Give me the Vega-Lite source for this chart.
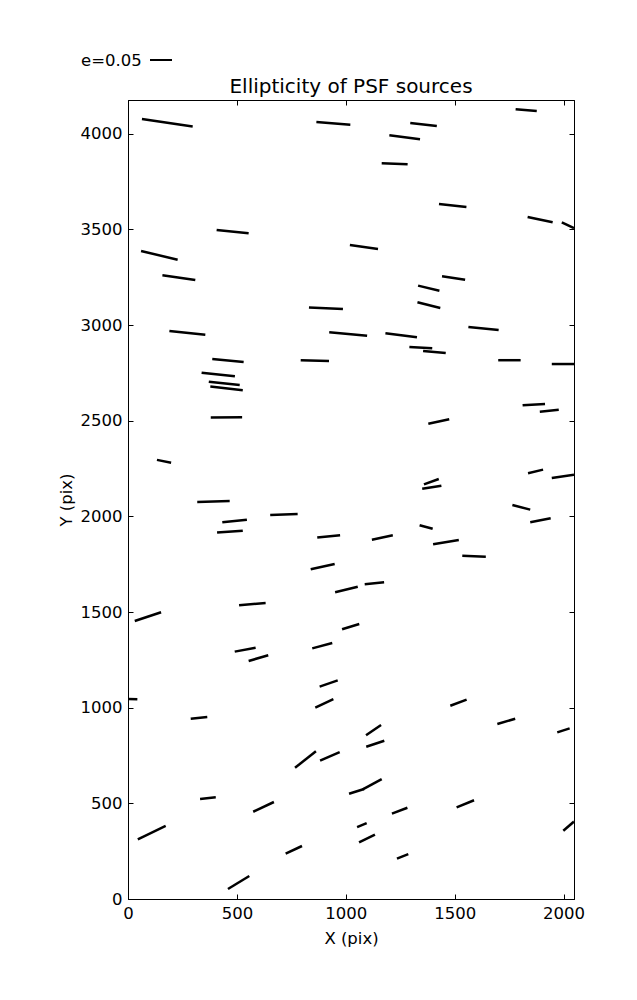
{
  "$schema": "https://vega.github.io/schema/vega-lite/v6.json",
  "autosize": {"type": "none"},
  "padding": {"left": 128, "top": 100, "right": 63, "bottom": 101},
  "width": 446,
  "height": 799,
  "background": "white",
  "config": {
    "font": "DejaVu Sans",
    "view": {"stroke": "black", "strokeWidth": 1},
    "axis": {
      "domainColor": "black", "domainWidth": 1,
      "tickColor": "black", "tickWidth": 1, "tickSize": -5,
      "labelColor": "black", "titleColor": "black",
      "labelFont": "DejaVu Sans", "titleFont": "DejaVu Sans",
      "labelFontSize": 16.5, "titleFontSize": 16.5, "titleFontWeight": "normal",
      "grid": false, "labelFlush": false, "labelOverlap": false, "labelPadding": 11, "format": "d"
    }
  },
  "title": {"text": "Ellipticity of PSF sources", "fontSize": 20, "fontWeight": "normal", "font": "DejaVu Sans", "color": "black", "offset": 4, "dy": 53},
  "data": {"values": [
    {"x1": 64, "y1": 4077, "x2": 297, "y2": 4037},
    {"x1": 865, "y1": 4061, "x2": 1021, "y2": 4047},
    {"x1": 407, "y1": 3497, "x2": 554, "y2": 3479},
    {"x1": 1019, "y1": 3418, "x2": 1148, "y2": 3397},
    {"x1": 60, "y1": 3387, "x2": 228, "y2": 3341},
    {"x1": 158, "y1": 3260, "x2": 309, "y2": 3235},
    {"x1": 831, "y1": 3091, "x2": 987, "y2": 3084},
    {"x1": 190, "y1": 2969, "x2": 355, "y2": 2949},
    {"x1": 924, "y1": 2962, "x2": 1098, "y2": 2944},
    {"x1": 387, "y1": 2822, "x2": 531, "y2": 2807},
    {"x1": 793, "y1": 2816, "x2": 923, "y2": 2812},
    {"x1": 1780, "y1": 4128, "x2": 1877, "y2": 4119},
    {"x1": 1296, "y1": 4056, "x2": 1418, "y2": 4040},
    {"x1": 1200, "y1": 3992, "x2": 1341, "y2": 3971},
    {"x1": 1165, "y1": 3845, "x2": 1284, "y2": 3840},
    {"x1": 1428, "y1": 3633, "x2": 1554, "y2": 3617},
    {"x1": 1835, "y1": 3565, "x2": 1950, "y2": 3537},
    {"x1": 1992, "y1": 3537, "x2": 2048, "y2": 3506},
    {"x1": 1442, "y1": 3255, "x2": 1548, "y2": 3237},
    {"x1": 1332, "y1": 3206, "x2": 1430, "y2": 3179},
    {"x1": 1329, "y1": 3119, "x2": 1434, "y2": 3089},
    {"x1": 1563, "y1": 2990, "x2": 1702, "y2": 2974},
    {"x1": 1182, "y1": 2957, "x2": 1327, "y2": 2936},
    {"x1": 1292, "y1": 2885, "x2": 1397, "y2": 2878},
    {"x1": 1355, "y1": 2864, "x2": 1459, "y2": 2854},
    {"x1": 1700, "y1": 2816, "x2": 1803, "y2": 2816},
    {"x1": 1946, "y1": 2796, "x2": 2048, "y2": 2796},
    {"x1": 338, "y1": 2751, "x2": 491, "y2": 2732},
    {"x1": 371, "y1": 2704, "x2": 513, "y2": 2687},
    {"x1": 378, "y1": 2678, "x2": 527, "y2": 2659},
    {"x1": 380, "y1": 2516, "x2": 524, "y2": 2518},
    {"x1": 133, "y1": 2295, "x2": 198, "y2": 2280},
    {"x1": 318, "y1": 2075, "x2": 467, "y2": 2080},
    {"x1": 433, "y1": 1969, "x2": 546, "y2": 1982},
    {"x1": 409, "y1": 1915, "x2": 527, "y2": 1925},
    {"x1": 653, "y1": 2007, "x2": 779, "y2": 2012},
    {"x1": 869, "y1": 1890, "x2": 974, "y2": 1901},
    {"x1": 839, "y1": 1723, "x2": 949, "y2": 1751},
    {"x1": 951, "y1": 1603, "x2": 1055, "y2": 1632},
    {"x1": 510, "y1": 1535, "x2": 632, "y2": 1547},
    {"x1": 31, "y1": 1453, "x2": 152, "y2": 1499},
    {"x1": 983, "y1": 1410, "x2": 1062, "y2": 1437},
    {"x1": 1812, "y1": 2580, "x2": 1915, "y2": 2587},
    {"x1": 1891, "y1": 2547, "x2": 1978, "y2": 2557},
    {"x1": 1379, "y1": 2484, "x2": 1475, "y2": 2507},
    {"x1": 1837, "y1": 2225, "x2": 1906, "y2": 2244},
    {"x1": 1946, "y1": 2200, "x2": 2048, "y2": 2218},
    {"x1": 1359, "y1": 2167, "x2": 1427, "y2": 2195},
    {"x1": 1351, "y1": 2144, "x2": 1439, "y2": 2160},
    {"x1": 1765, "y1": 2059, "x2": 1847, "y2": 2035},
    {"x1": 1339, "y1": 1953, "x2": 1399, "y2": 1935},
    {"x1": 1847, "y1": 1969, "x2": 1941, "y2": 1990},
    {"x1": 1120, "y1": 1878, "x2": 1216, "y2": 1901},
    {"x1": 1401, "y1": 1854, "x2": 1519, "y2": 1876},
    {"x1": 1535, "y1": 1794, "x2": 1643, "y2": 1789},
    {"x1": 1087, "y1": 1645, "x2": 1176, "y2": 1655},
    {"x1": 490, "y1": 1293, "x2": 586, "y2": 1313},
    {"x1": 554, "y1": 1244, "x2": 644, "y2": 1274},
    {"x1": 846, "y1": 1310, "x2": 938, "y2": 1338},
    {"x1": 880, "y1": 1110, "x2": 963, "y2": 1143},
    {"x1": 860, "y1": 1000, "x2": 943, "y2": 1045},
    {"x1": -40, "y1": 1047, "x2": 43, "y2": 1044},
    {"x1": 288, "y1": 942, "x2": 364, "y2": 951},
    {"x1": 767, "y1": 686, "x2": 863, "y2": 772},
    {"x1": 882, "y1": 723, "x2": 972, "y2": 768},
    {"x1": 1015, "y1": 550, "x2": 1084, "y2": 575},
    {"x1": 1078, "y1": 573, "x2": 1165, "y2": 627},
    {"x1": 331, "y1": 523, "x2": 403, "y2": 532},
    {"x1": 575, "y1": 456, "x2": 670, "y2": 507},
    {"x1": 45, "y1": 312, "x2": 173, "y2": 382},
    {"x1": 724, "y1": 237, "x2": 799, "y2": 277},
    {"x1": 459, "y1": 52, "x2": 557, "y2": 120},
    {"x1": 1480, "y1": 1010, "x2": 1555, "y2": 1042},
    {"x1": 1696, "y1": 915, "x2": 1778, "y2": 942},
    {"x1": 1971, "y1": 871, "x2": 2028, "y2": 892},
    {"x1": 1093, "y1": 856, "x2": 1162, "y2": 909},
    {"x1": 1094, "y1": 796, "x2": 1177, "y2": 827},
    {"x1": 1509, "y1": 479, "x2": 1589, "y2": 516},
    {"x1": 1212, "y1": 446, "x2": 1283, "y2": 477},
    {"x1": 1052, "y1": 376, "x2": 1096, "y2": 397},
    {"x1": 1061, "y1": 296, "x2": 1134, "y2": 336},
    {"x1": 1999, "y1": 357, "x2": 2048, "y2": 405},
    {"x1": 1235, "y1": 211, "x2": 1287, "y2": 235}
  ]},
  "layer": [
    {
      "mark": {"type": "rule", "strokeWidth": 2.5, "strokeCap": "butt", "clip": true},
      "encoding": {
        "x": {"field": "x1", "type": "quantitative", "scale": {"domain": [0, 2048], "nice": false, "zero": false},
              "axis": {"title": "X (pix)", "orient": "bottom", "values": [0, 500, 1000, 1500, 2000], "titlePadding": 9}},
        "y": {"field": "y1", "type": "quantitative", "scale": {"domain": [0, 4176], "nice": false, "zero": false},
              "axis": {"title": "Y (pix)", "orient": "left", "values": [0, 500, 1000, 1500, 2000, 2500, 3000, 3500, 4000], "titlePadding": 6}},
        "x2": {"field": "x2"},
        "y2": {"field": "y2"},
        "color": {"datum": "e=0.05", "scale": {"range": ["black"]},
          "legend": {"title": "e=0.05", "titleOrient": "left", "titleAnchor": "middle", "titleFontSize": 16.5, "titleFontWeight": "normal", "titleFont": "DejaVu Sans", "titleColor": "black", "titleBaseline": "line-top", "titleLineHeight": 8.5, "titlePadding": 7,
                     "labelExpr": "''", "symbolType": "stroke", "symbolSize": 484, "symbolStrokeWidth": 2, "symbolStrokeColor": "black",
                     "orient": "none", "legendX": -47, "legendY": -52, "padding": 0, "labelOffset": 0}}
      }
    },
    {
      "mark": {"type": "rule", "opacity": 0},
      "encoding": {
        "x": {"field": "x1", "type": "quantitative", "scale": {"domain": [0, 2048], "nice": false, "zero": false},
              "axis": {"title": null, "orient": "top", "labels": false, "values": [0, 500, 1000, 1500, 2000]}},
        "y": {"field": "y1", "type": "quantitative", "scale": {"domain": [0, 4176], "nice": false, "zero": false},
              "axis": {"title": null, "orient": "right", "labels": false, "values": [0, 500, 1000, 1500, 2000, 2500, 3000, 3500, 4000]}},
        "x2": {"field": "x2"},
        "y2": {"field": "y2"}
      }
    }
  ],
  "resolve": {"scale": {"x": "independent", "y": "independent"}, "axis": {"x": "independent", "y": "independent"}}
}
